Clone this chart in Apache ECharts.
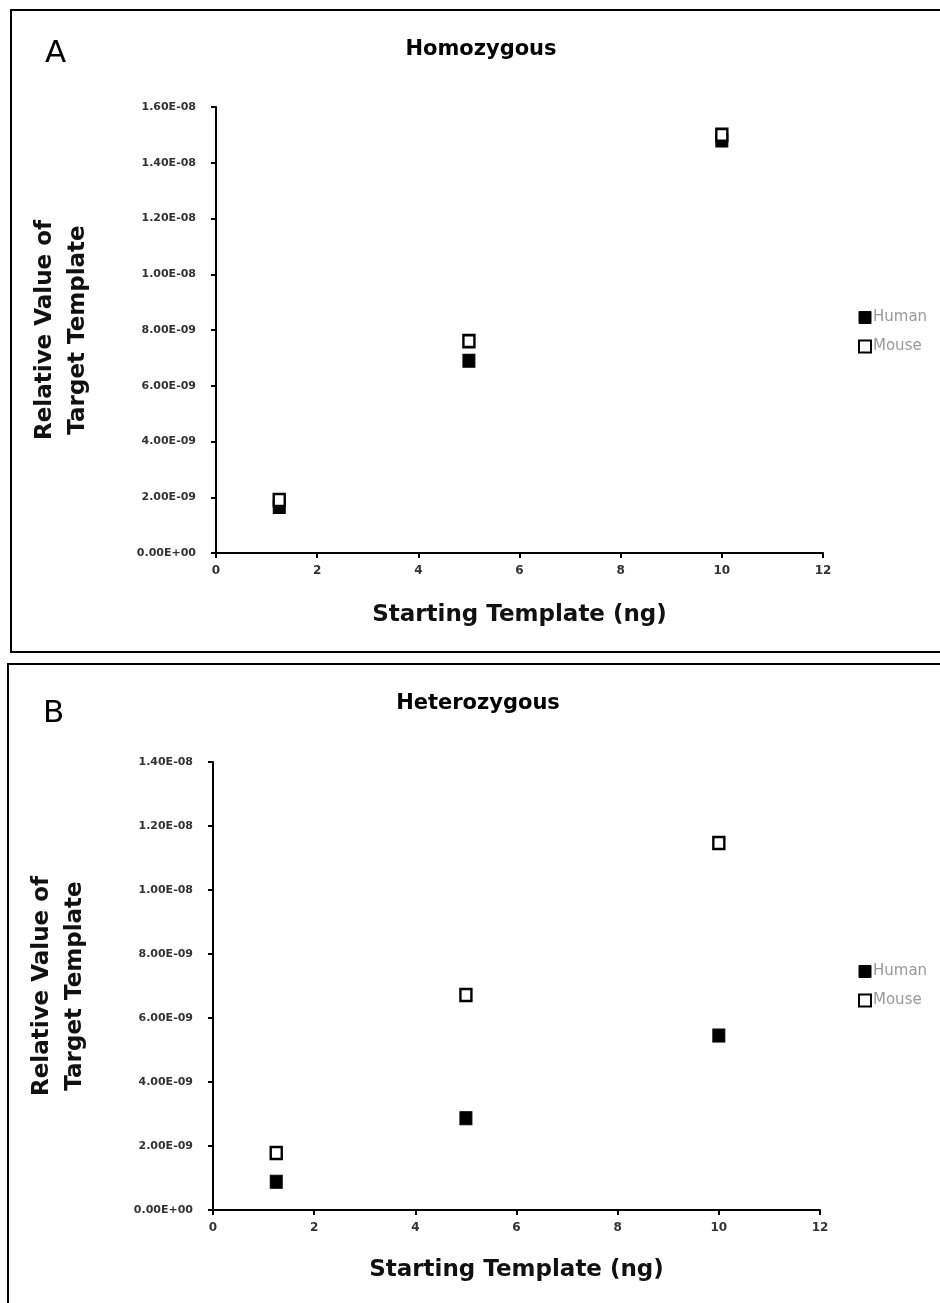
<!DOCTYPE html>
<html>
<head>
<meta charset="utf-8">
<script src="https://cdn.jsdelivr.net/npm/echarts@6/dist/echarts.min.js"></script>
<style>html,body{margin:0;padding:0;background:#fff;}#c{width:940px;height:1303px;}</style>
</head>
<body>
<div id="c"></div>
<script>
var xTemplate = [1.25, 5, 10];
var homHuman = [1.65e-9, 6.9e-9, 1.48e-8];
var homMouse = [1.9e-9, 7.6e-9, 1.50e-8];
var hetHuman = [0.88e-9, 2.87e-9, 5.45e-9];
var hetMouse = [1.78e-9, 6.72e-9, 11.47e-9];
var seriesNames = ['Human', 'Mouse'];
var panelTitles = ['Homozygous', 'Heterozygous'];
var panelLetters = ['A', 'B'];
var yAxisName = 'Relative Value of\nTarget Template';
var xAxisName = 'Starting Template (ng)';
var yMax = [1.6e-8, 1.4e-8];

function pairs(xs, ys) { return xs.map(function (x, i) { return [x, ys[i]]; }); }
function sci(v) {
  if (v === 0) return '0.00E+00';
  var e = Math.floor(Math.log10(v) + 1e-9);
  var m = v / Math.pow(10, e);
  var s = e < 0 ? '-' : '+';
  var a = Math.abs(e);
  return m.toFixed(2) + 'E' + s + (a < 10 ? '0' + a : a);
}
var FONT = 'DejaVu Sans';
var grids = [
  { left: 216, top: 107, width: 607, height: 446 },
  { left: 213, top: 762, width: 607, height: 448 }
];
function xAxis(i) {
  return {
    gridIndex: i, type: 'value', min: 0, max: 12, interval: 2,
    name: xAxisName, nameLocation: 'middle', nameGap: i === 0 ? 51 : 49,
    nameTextStyle: { fontFamily: FONT, fontWeight: 'bold', fontSize: 23, color: '#111' },
    axisLine: { show: true, lineStyle: { color: '#000', width: 2 } },
    axisTick: { show: true, inside: false, length: 5, lineStyle: { color: '#000', width: 2 } },
    axisLabel: { fontFamily: FONT, fontWeight: 'bold', fontSize: 12, color: '#333', margin: 12 },
    splitLine: { show: false }
  };
}
function yAxis(i) {
  return {
    gridIndex: i, type: 'value', min: 0, max: yMax[i], interval: 2e-9,
    name: yAxisName, nameLocation: 'middle', nameGap: 121, nameRotate: 90,
    nameTextStyle: { fontFamily: FONT, fontWeight: 'bold', fontSize: 23, color: '#111', lineHeight: 33 },
    axisLine: { show: true, lineStyle: { color: '#000', width: 2 } },
    axisTick: { show: true, inside: false, length: 5, lineStyle: { color: '#000', width: 2 } },
    axisLabel: { fontFamily: FONT, fontWeight: 'bold', fontSize: 11, color: '#333', margin: 20, formatter: sci },
    splitLine: { show: false }
  };
}
function humanSeries(i, data) {
  return { name: seriesNames[0], type: 'scatter', xAxisIndex: i, yAxisIndex: i, symbol: 'rect', symbolSize: [12, 13],
    itemStyle: { color: '#000', borderColor: '#000', borderWidth: 1, opacity: 1 }, data: pairs(xTemplate, data), z: 2 };
}
function mouseSeries(i, data) {
  return { name: seriesNames[1], type: 'scatter', xAxisIndex: i, yAxisIndex: i, symbol: 'rect', symbolSize: [11, 12],
    itemStyle: { color: '#fff', borderColor: '#000', borderWidth: 2.5, opacity: 1 }, data: pairs(xTemplate, data), z: 3 };
}
function legend(top) {
  return {
    data: [
      { name: seriesNames[0], itemStyle: { color: '#000', borderColor: '#000', borderWidth: 1, opacity: 1 } },
      { name: seriesNames[1], itemStyle: { color: '#fff', borderColor: '#000', borderWidth: 2, opacity: 1 } }
    ],
    orient: 'vertical', left: 853, top: top, itemWidth: 12, itemHeight: 12, itemGap: 14,
    icon: 'rect', selectedMode: false,
    textStyle: { fontFamily: FONT, fontSize: 15, color: '#999', padding: [0, 0, 0, -3] }
  };
}
var chart = echarts.init(document.getElementById('c'), null, { renderer: 'canvas' });
chart.setOption({
  animation: false,
  backgroundColor: '#fff',
  title: [
    { text: panelLetters[0], left: 40, top: 33, textStyle: { fontFamily: FONT, fontWeight: 'normal', fontSize: 31, color: '#000' } },
    { text: panelTitles[0], left: 476, top: 34, textAlign: 'center', textStyle: { fontFamily: FONT, fontWeight: 'bold', fontSize: 21, color: '#000' } },
    { text: panelLetters[1], left: 38, top: 693, textStyle: { fontFamily: FONT, fontWeight: 'normal', fontSize: 31, color: '#000' } },
    { text: panelTitles[1], left: 473, top: 688, textAlign: 'center', textStyle: { fontFamily: FONT, fontWeight: 'bold', fontSize: 21, color: '#000' } }
  ],
  legend: [legend(305), legend(959)],
  grid: grids,
  xAxis: [xAxis(0), xAxis(1)],
  yAxis: [yAxis(0), yAxis(1)],
  series: [
    humanSeries(0, homHuman), mouseSeries(0, homMouse),
    humanSeries(1, hetHuman), mouseSeries(1, hetMouse)
  ],
  graphic: [
    { type: 'rect', shape: { x: 11, y: 10, width: 960, height: 642 }, style: { fill: 'none', stroke: '#000', lineWidth: 2 } },
    { type: 'rect', shape: { x: 8, y: 664, width: 960, height: 680 }, style: { fill: 'none', stroke: '#000', lineWidth: 2 } }
  ]
});
</script>
</body>
</html>
